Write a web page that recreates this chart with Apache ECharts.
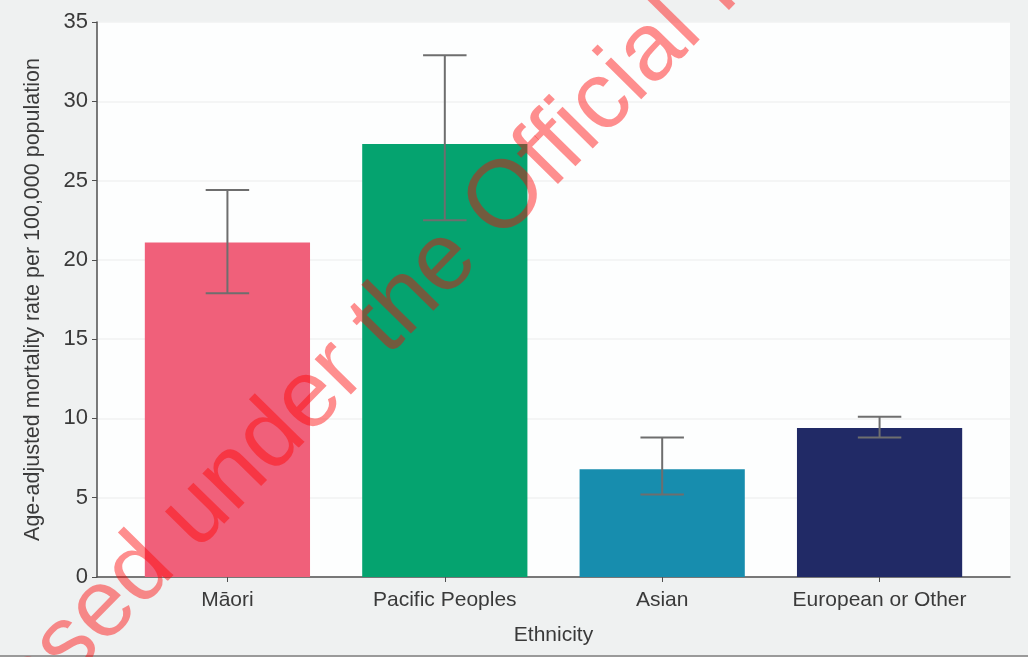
<!DOCTYPE html>
<html>
<head>
<meta charset="utf-8">
<script src="https://cdn.jsdelivr.net/npm/echarts@6/dist/echarts.min.js"></script>
<style>
  html, body { margin: 0; padding: 0; background: #eff1f1; }
  #chart { width: 1028px; height: 657px; }
</style>
</head>
<body>
<div id="chart"></div>
<script>
// Age-adjusted mortality by ethnicity, with 95% confidence intervals
const categories = ['Māori', 'Pacific Peoples', 'Asian', 'European or Other'];
const rates      = [21.1, 27.3, 6.8, 9.4];
const ciLower    = [17.9, 22.5, 5.2, 8.8];
const ciUpper    = [24.4, 32.9, 8.8, 10.1];
const barColors  = ['#f0607a', '#05a36f', '#178dae', '#212a66'];
const yTicks     = [0, 5, 10, 15, 20, 25, 30, 35];

const yTitle = 'Age-adjusted mortality rate per 100,000 population';
const xTitle = 'Ethnicity';
const stampText = 'Released under the Official Information Act';

// category positions along the numeric x axis (1..n)
const positions = categories.map((_, i) => i + 1);
const BAR_HALF = 0.38;
const CAP_HALF = 0.1;

const barData = positions.map((p, i) => [p, rates[i]]);
const ciData  = positions.map((p, i) => [p, ciLower[i], ciUpper[i]]);

const FONT = '"Liberation Sans", Arial, Helvetica, sans-serif';
const TEXT = '#3a3a3a';
const AXIS = '#4f4f4f';

// Diagonal release stamp: place it so the word "Official" sits in the upper middle
const STAMP_SIZE = 96;
const STAMP_ANGLE = 45.5 * Math.PI / 180;
const stampFont = STAMP_SIZE + 'px "Liberation Sans", Arial, sans-serif';
const ctx = document.createElement('canvas').getContext('2d');
ctx.font = stampFont;
const wFull = ctx.measureText(stampText).width;
const wPre  = ctx.measureText('Released under the ').width;
const wO    = ctx.measureText('O').width;
const d = wPre + wO / 2 - wFull / 2;
const anchorO = [507, 198];
const stampX = anchorO[0] - d * Math.cos(STAMP_ANGLE);
const stampY = anchorO[1] + d * Math.sin(STAMP_ANGLE);

const chart = echarts.init(document.getElementById('chart'), null, { renderer: 'canvas' });

chart.setOption({
  backgroundColor: '#eff1f1',
  animation: false,
  grid: {
    left: 97, right: 18, top: 22, bottom: 80,
    show: true, backgroundColor: '#fdfefe', borderWidth: 0
  },
  xAxis: {
    type: 'value',
    min: 0.4, max: 4.6,
    name: xTitle,
    nameLocation: 'middle',
    nameGap: 48,
    nameTextStyle: { fontFamily: FONT, fontSize: 21, color: TEXT },
    axisLine: { show: true, lineStyle: { color: AXIS, width: 1.5 } },
    axisTick: { show: true, length: 5, customValues: positions, lineStyle: { color: AXIS } },
    axisLabel: {
      customValues: positions,
      margin: 13,
      fontFamily: FONT, fontSize: 21, color: TEXT,
      formatter: v => categories[Math.round(v) - 1] || ''
    },
    splitLine: { show: false }
  },
  yAxis: {
    type: 'value',
    min: yTicks[0], max: yTicks[yTicks.length - 1], interval: 5,
    name: yTitle,
    nameLocation: 'middle',
    nameGap: 53,
    nameTextStyle: { fontFamily: FONT, fontSize: 21.5, color: TEXT },
    axisLine: { show: true, lineStyle: { color: AXIS, width: 1.5 } },
    axisTick: { show: true, length: 5, lineStyle: { color: AXIS } },
    axisLabel: { margin: 9, fontFamily: FONT, fontSize: 22, color: TEXT },
    splitLine: { show: true, lineStyle: { color: '#f1f2f2', width: 1.5 } }
  },
  series: [
    {
      type: 'custom',
      name: 'Rate',
      data: barData,
      encode: { x: 0, y: 1 },
      renderItem: (params, api) => {
        const x = api.value(0), y = api.value(1);
        const p0 = api.coord([x - BAR_HALF, 0]);
        const p1 = api.coord([x + BAR_HALF, y]);
        return {
          type: 'rect',
          shape: { x: p0[0], y: p1[1], width: p1[0] - p0[0], height: p0[1] - p1[1] },
          style: { fill: barColors[params.dataIndex] }
        };
      },
      z: 2
    },
    {
      type: 'custom',
      name: '95% CI',
      data: ciData,
      encode: { x: 0, y: [1, 2] },
      renderItem: (params, api) => {
        const x = api.value(0), lo = api.value(1), hi = api.value(2);
        const top = api.coord([x, hi]);
        const bot = api.coord([x, lo]);
        const l = api.coord([x - CAP_HALF, hi])[0];
        const r = api.coord([x + CAP_HALF, hi])[0];
        const style = { stroke: '#6e6e6e', lineWidth: 2 };
        return {
          type: 'group',
          children: [
            { type: 'line', shape: { x1: top[0], y1: top[1], x2: bot[0], y2: bot[1] }, style },
            { type: 'line', shape: { x1: l, y1: top[1], x2: r, y2: top[1] }, style },
            { type: 'line', shape: { x1: l, y1: bot[1], x2: r, y2: bot[1] }, style }
          ]
        };
      },
      z: 3
    }
  ],
  graphic: [
    {
      type: 'line',
      shape: { x1: 0, y1: 656, x2: 1028, y2: 656 },
      style: { stroke: '#9a9a9a', lineWidth: 2 },
      z: 50
    },
    {
      type: 'text',
      x: stampX, y: stampY,
      rotation: STAMP_ANGLE,
      silent: true,
      z: 100,
      style: {
        text: stampText,
        font: stampFont,
        fill: 'rgba(255, 0, 0, 0.44)',
        align: 'center',
        verticalAlign: 'middle'
      }
    }
  ]
});
</script>
</body>
</html>
